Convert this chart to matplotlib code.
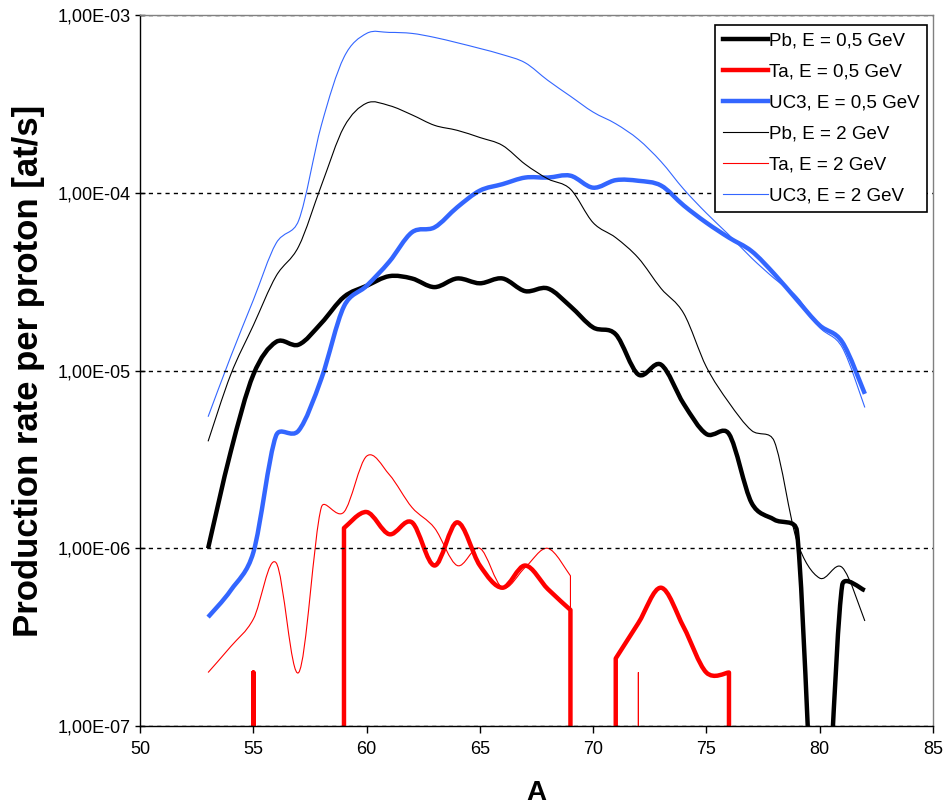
import numpy as np
import matplotlib
matplotlib.use("Agg")
import matplotlib.pyplot as plt
from matplotlib.path import Path
from matplotlib.patches import PathPatch
from matplotlib.lines import Line2D

plt.rcParams['font.family'] = ['Liberation Sans', 'DejaVu Sans']

# mass number A
mass = list(range(53, 83))

# production rate per proton [at/s]; 0 means below the plotted range
pb_05 = [1.0e-6, 3.5e-6, 9.5e-6, 1.45e-5, 1.4e-5, 1.85e-5, 2.6e-5, 3.0e-5, 3.4e-5, 3.3e-5,
         2.95e-5, 3.3e-5, 3.1e-5, 3.3e-5, 2.8e-5, 2.9e-5, 2.3e-5, 1.75e-5, 1.6e-5, 9.5e-6,
         1.08e-5, 6.5e-6, 4.4e-6, 4.4e-6, 1.8e-6, 1.45e-6, 1.25e-6, 1.0e-8, 6.2e-7, 5.8e-7]
ta_05 = [0, 0, 2.0e-7, 0, 0, 0, 1.3e-6, 1.6e-6, 1.2e-6, 1.4e-6,
         8.0e-7, 1.4e-6, 8.0e-7, 6.0e-7, 8.0e-7, 5.9e-7, 4.5e-7, 0, 2.4e-7, 3.8e-7,
         6.0e-7, 3.6e-7, 2.0e-7, 2.0e-7, 0, 0, 0, 0, 0, 0]
uc3_05 = [4.1e-7, 5.8e-7, 9.5e-7, 4.3e-6, 4.6e-6, 9.0e-6, 2.3e-5, 3.0e-5, 4.1e-5, 6.0e-5,
          6.4e-5, 8.3e-5, 1.03e-4, 1.12e-4, 1.22e-4, 1.22e-4, 1.25e-4, 1.07e-4, 1.18e-4, 1.17e-4,
          1.1e-4, 8.5e-5, 6.8e-5, 5.6e-5, 4.7e-5, 3.5e-5, 2.5e-5, 1.8e-5, 1.45e-5, 7.4e-6]
pb_2 = [4.0e-6, 9.5e-6, 1.8e-5, 3.4e-5, 5.0e-5, 1.1e-4, 2.35e-4, 3.2e-4, 3.1e-4, 2.75e-4,
        2.4e-4, 2.25e-4, 2.05e-4, 1.85e-4, 1.45e-4, 1.2e-4, 1.05e-4, 6.8e-5, 5.6e-5, 4.3e-5,
        2.9e-5, 2.1e-5, 1.05e-5, 6.6e-6, 4.6e-6, 4.0e-6, 1.1e-6, 6.8e-7, 7.8e-7, 3.9e-7]
ta_2 = [2.0e-7, 2.8e-7, 4.0e-7, 8.3e-7, 2.0e-7, 1.7e-6, 1.6e-6, 3.3e-6, 2.6e-6, 1.7e-6,
        1.3e-6, 8.0e-7, 1.0e-6, 6.0e-7, 7.8e-7, 1.0e-6, 7.0e-7, 0, 0, 2.0e-7,
        0, 0, 0, 0, 0, 0, 0, 0, 0, 0]
uc3_2 = [5.5e-6, 1.2e-5, 2.5e-5, 5.2e-5, 7.0e-5, 2.4e-4, 5.8e-4, 7.9e-4, 8.0e-4, 7.9e-4,
         7.5e-4, 7.0e-4, 6.5e-4, 6.0e-4, 5.4e-4, 4.3e-4, 3.5e-4, 2.85e-4, 2.45e-4, 2.0e-4,
         1.5e-4, 1.05e-4, 7.7e-5, 5.8e-5, 4.3e-5, 3.3e-5, 2.6e-5, 1.75e-5, 1.35e-5, 6.2e-6]

labels = ['Pb, E = 0,5 GeV', 'Ta, E = 0,5 GeV', 'UC3, E = 0,5 GeV',
          'Pb, E = 2 GeV', 'Ta, E = 2 GeV', 'UC3, E = 2 GeV']

y_ticks = [1e-7, 1e-6, 1e-5, 1e-4, 1e-3]
y_ticklabels = ['1,00E-07', '1,00E-06', '1,00E-05', '1,00E-04', '1,00E-03']
x_ticks = [50, 55, 60, 65, 70, 75, 80, 85]


def smooth_path(ax, x, y):
    # smoothed line like excel: cubic bezier between points, built in screen space
    y = np.asarray(y, float)
    ok = y > 0
    pts = ax.transData.transform(np.column_stack([x, np.where(ok, y, 1.0)]))
    floor = ax.transData.transform([[x[0], ax.get_ylim()[0] / 10]])[0, 1]
    verts, codes = [], []
    pen = None
    n = len(x)
    for i in range(n - 1):
        p1, p2 = pts[i], pts[i + 1]
        if ok[i] and ok[i + 1]:
            p0 = pts[i - 1] if i > 0 and ok[i - 1] else p1
            p3 = pts[i + 2] if i + 2 < n and ok[i + 2] else p2
            seg = np.hypot(*(p2 - p1))
            t1 = (p2 - p0) / 6
            t2 = (p3 - p1) / 6
            for t in (t1, t2):
                ln = np.hypot(*t)
                if ln > seg / 2:
                    t *= (seg / 2) / ln
            if pen != i:
                verts.append(p1)
                codes.append(Path.MOVETO)
            verts += [p1 + t1, p2 - t2, p2]
            codes += [Path.CURVE4] * 3
            pen = i + 1
        elif ok[i]:
            # drops to zero -> straight down out of the plot
            if pen != i:
                verts.append(p1)
                codes.append(Path.MOVETO)
            verts.append([p1[0], floor])
            codes.append(Path.LINETO)
            pen = None
        elif ok[i + 1]:
            verts += [[p2[0], floor], p2]
            codes += [Path.MOVETO, Path.LINETO]
            pen = i + 1
    data = ax.transData.inverted().transform(np.array(verts, float))
    return Path(data, codes)


fig = plt.figure(figsize=(9.47, 8.09), dpi=100)
ax = fig.add_axes([0.148, 0.1026, 0.837, 0.8786])
ax.set_yscale('log')
ax.set_xlim(50, 85)
ax.set_ylim(1e-7, 1e-3)

series = [pb_05, ta_05, uc3_05, pb_2, ta_2, uc3_2]
colors = ['black', '#ff0000', '#3366ff', 'black', '#ff0000', '#3366ff']
widths = [3.2, 3.2, 3.2, 0.8, 0.8, 0.8]

handles = []
for vals, c, w, lab in zip(series, colors, widths, labels):
    ax.add_patch(PathPatch(smooth_path(ax, mass, vals), facecolor='none', edgecolor=c,
                           lw=w, joinstyle='round', capstyle='butt', transform=ax.transData))
    handles.append(Line2D([], [], color=c, lw=w, label=lab))

ax.set_yticks(y_ticks)
ax.set_yticklabels(y_ticklabels)
ax.yaxis.set_minor_locator(matplotlib.ticker.NullLocator())
ax.set_xticks(x_ticks)
ax.tick_params(axis='y', direction='inout', length=7, width=1, labelsize=13, pad=3.5, colors='black')
ax.tick_params(axis='x', direction='out', length=4.8, width=1, labelsize=13, pad=6, colors='black')
ax.yaxis.grid(True, color='black', linestyle=(0, (3, 3)), lw=1)

for side in ['left', 'bottom']:
    ax.spines[side].set_color('black')
for side in ['top', 'right']:
    ax.spines[side].set_color('#808080')
for s in ax.spines.values():
    s.set_linewidth(1)
    s.set_zorder(3)

ax.set_ylabel('Production rate per proton [at/s]', fontsize=25, fontweight='bold', labelpad=9)
ax.set_xlabel('A', fontsize=20, fontweight='bold', labelpad=16)

leg = ax.legend(handles=handles, loc='upper right', bbox_to_anchor=(0.9925, 0.986),
                borderaxespad=0, fontsize=13.5, fancybox=False, framealpha=1,
                edgecolor='black', handlelength=2.4, handletextpad=0.05,
                labelspacing=0.74, borderpad=0.4)
leg.get_frame().set_linewidth(1.2)

fig.savefig('out.png', dpi=100)
